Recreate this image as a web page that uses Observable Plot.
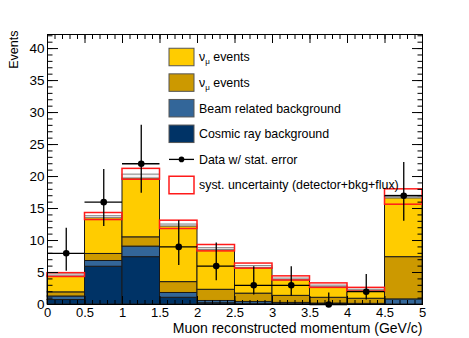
<!DOCTYPE html>
<html><head><meta charset="utf-8">
<script src="https://cdn.jsdelivr.net/npm/d3@7"></script>
<script src="https://cdn.jsdelivr.net/npm/@observablehq/plot@0.6"></script>
<style>body{margin:0;background:#fff}#chart{width:469px;height:338px}</style>
</head><body><div id="chart"></div>
<script>
// Bin edges (GeV/c)
const binLow  = [0, 0.5, 1.0, 1.5, 2.0, 2.5, 3.0, 3.5, 4.0, 4.5];
const binHigh = [0.5, 1.0, 1.5, 2.0, 2.5, 3.0, 3.5, 4.0, 4.5, 5.0];
// Stacked MC components (events per bin)
const cosmic   = [0.7, 5.9, 7.4, 1.05, 0.2, 0.1, 0.05, 0.0, 0.0, 0.0];
const beam     = [0.55, 0.9, 1.65, 0.75, 0.35, 0.3, 0.2, 0.15, 0.1, 0.8];
const antiNumu = [0.65, 1.1, 1.45, 1.7, 1.75, 1.3, 1.1, 0.9, 0.8, 6.6];
const numu     = [2.5, 5.6, 9.2, 8.7, 6.2, 4.0, 2.45, 1.65, 1.2, 9.2];
const other    = [0.3, 0.3, 0.6, 0.3, 0.3, 0.3, 0.25, 0.25, 0.2, 0.4];
// Systematic uncertainty band edges
const systLow  = [4.3, 13.2, 19.5, 11.8, 8.3, 5.6, 3.75, 2.6, 2.0, 15.6];
const systHigh = [4.9, 14.3, 21.2, 13.1, 9.3, 6.4, 4.4, 3.3, 2.6, 18.0];
// Data with statistical errors
const dataCounts = [8, 16, 22, 9, 6, 3, 3, 0, 2, 17];
const errLow  = [5.2, 12.2, 17.4, 6.1, 3.7, 1.5, 1.3, 0, 0.7, 13.0];
const errHigh = [11.9, 21.1, 28.0, 13.1, 9.6, 5.9, 5.9, 1.8, 4.7, 22.2];
// Axis ticks
const xMajor = [0, 0.5, 1, 1.5, 2, 2.5, 3, 3.5, 4, 4.5, 5];
const yMajor = [0, 5, 10, 15, 20, 25, 30, 35, 40];
const xMinor = d3.range(0, 5.001, 0.1).map(v => +v.toFixed(1));
const yMinor = d3.range(0, 42.1, 1);

const layers = [
  {key: "cosmic", values: cosmic, color: "#003366"},
  {key: "beam", values: beam, color: "#336699"},
  {key: "antinumu", values: antiNumu, color: "#cc9900"},
  {key: "numu", values: numu, color: "#ffcc00"},
  {key: "other", values: other, color: "#f3f3f3"}
];
const stackRows = [];
binLow.forEach((lo, i) => {
  let base = 0;
  layers.forEach(L => {
    const v = L.values[i];
    stackRows.push({x1: lo, x2: binHigh[i], y1: base, y2: base + v, color: L.color, key: L.key});
    base += v;
  });
});
const bins = binLow.map((lo, i) => ({
  x1: lo, x2: binHigh[i], xc: (lo + binHigh[i]) / 2,
  sLo: systLow[i], sHi: systHigh[i],
  d: dataCounts[i], eLo: errLow[i], eHi: errHigh[i]
}));

const font = "'Liberation Sans', Arial, Helvetica, sans-serif";
const plot = Plot.plot({
  width: 469, height: 338,
  marginLeft: 47, marginRight: 47, marginTop: 34, marginBottom: 34,
  style: {fontFamily: font, fontSize: "13px", background: "white", color: "black"},
  x: {domain: [0, 5]},
  y: {domain: [0, 42.2]},
  marks: [
    Plot.rect(stackRows, {x1: "x1", x2: "x2", y1: "y1", y2: "y2", fill: "color",
      stroke: d => d.key === "other" ? "#808080" : "#1a1a1a", strokeWidth: 1}),
    Plot.rect(bins, {x1: "x1", x2: "x2", y1: "sLo", y2: "sHi", fill: "none", stroke: "#ff1a1a", strokeWidth: 1.5}),
    Plot.ruleY(bins, {y: "d", x1: "x1", x2: "x2", stroke: "black", strokeWidth: 1.3}),
    Plot.ruleX(bins, {x: "xc", y1: "eLo", y2: "eHi", stroke: "black", strokeWidth: 1.3}),
    Plot.dot(bins, {x: "xc", y: "d", r: 3.3, fill: "black"}),
    Plot.frame({stroke: "black"}),
    // inward ticks on all four sides
    Plot.axisX({anchor: "bottom", ticks: xMinor, tickSize: -4, tickFormat: () => "", label: null}),
    Plot.axisX({anchor: "bottom", ticks: xMajor, tickSize: -8, tickFormat: () => "", label: null}),
    Plot.axisX({anchor: "top", ticks: xMinor, tickSize: -4, tickFormat: () => "", label: null}),
    Plot.axisX({anchor: "top", ticks: xMajor, tickSize: -8, tickFormat: () => "", label: null}),
    Plot.axisY({anchor: "left", ticks: yMinor, tickSize: -5.5, tickFormat: () => "", label: null}),
    Plot.axisY({anchor: "left", ticks: yMajor, tickSize: -11, tickFormat: () => "", label: null}),
    Plot.axisY({anchor: "right", ticks: yMinor, tickSize: -5.5, tickFormat: () => "", label: null}),
    Plot.axisY({anchor: "right", ticks: yMajor, tickSize: -11, tickFormat: () => "", label: null}),
    // tick labels
    Plot.axisX({anchor: "bottom", ticks: xMajor, tickSize: 0, tickPadding: 3, fontSize: 13, tickFormat: d => String(d), label: null}),
    Plot.axisY({anchor: "left", ticks: yMajor, tickSize: 0, tickPadding: 3, fontSize: 13.5, tickFormat: d => String(d), label: null}),
    // axis titles
    Plot.text(["Muon reconstructed momentum (GeV/c)"], {frameAnchor: "bottom-right", textAnchor: "end", lineAnchor: "middle", dy: 24, fontSize: 14}),
    Plot.text(["Events"], {frameAnchor: "top-left", rotate: -90, textAnchor: "end", lineAnchor: "middle", dx: -34, dy: -4, fontSize: 12.5})
  ]
});
document.getElementById("chart").appendChild(plot);

// Legend
const svg = d3.select(plot);
const lg = svg.append("g").attr("font-family", font).attr("font-size", 12.4).attr("text-anchor", "start");
const entries = [
  {type: "box", fill: "#ffcc00", label: "events", nu: true},
  {type: "box", fill: "#cc9900", label: "events", nu: true},
  {type: "box", fill: "#336699", label: "Beam related background"},
  {type: "box", fill: "#003366", label: "Cosmic ray background"},
  {type: "data", label: "Data w/ stat. error"},
  {type: "syst", label: "syst. uncertainty (detector+bkg+flux)"}
];
const bx = 169, bw = 25, bh = 17.5, tx = 199, y0 = 57, step = 25.6;
entries.forEach((e, i) => {
  const cy = y0 + i * step;
  if (e.type === "box") {
    lg.append("rect").attr("x", bx).attr("y", cy - bh / 2).attr("width", bw).attr("height", bh)
      .attr("fill", e.fill).attr("stroke", "#555").attr("stroke-width", 1);
  } else if (e.type === "syst") {
    lg.append("rect").attr("x", bx).attr("y", cy - bh / 2).attr("width", bw).attr("height", bh)
      .attr("fill", "white").attr("stroke", "#ff1a1a").attr("stroke-width", 1.5);
  } else {
    lg.append("line").attr("x1", bx).attr("x2", bx + bw).attr("y1", cy).attr("y2", cy)
      .attr("stroke", "black").attr("stroke-width", 1.3);
    lg.append("circle").attr("cx", bx + bw / 2).attr("cy", cy).attr("r", 2.8).attr("fill", "black");
  }
  const t = lg.append("text").attr("x", tx).attr("y", cy).attr("dy", "0.36em");
  if (e.nu) {
    t.append("tspan").text("ν");
    t.append("tspan").attr("font-size", 8).attr("dy", 3).text("μ");
    t.append("tspan").attr("dy", -3).text(" " + e.label);
  } else {
    t.text(e.label);
  }
});
</script></body></html>
